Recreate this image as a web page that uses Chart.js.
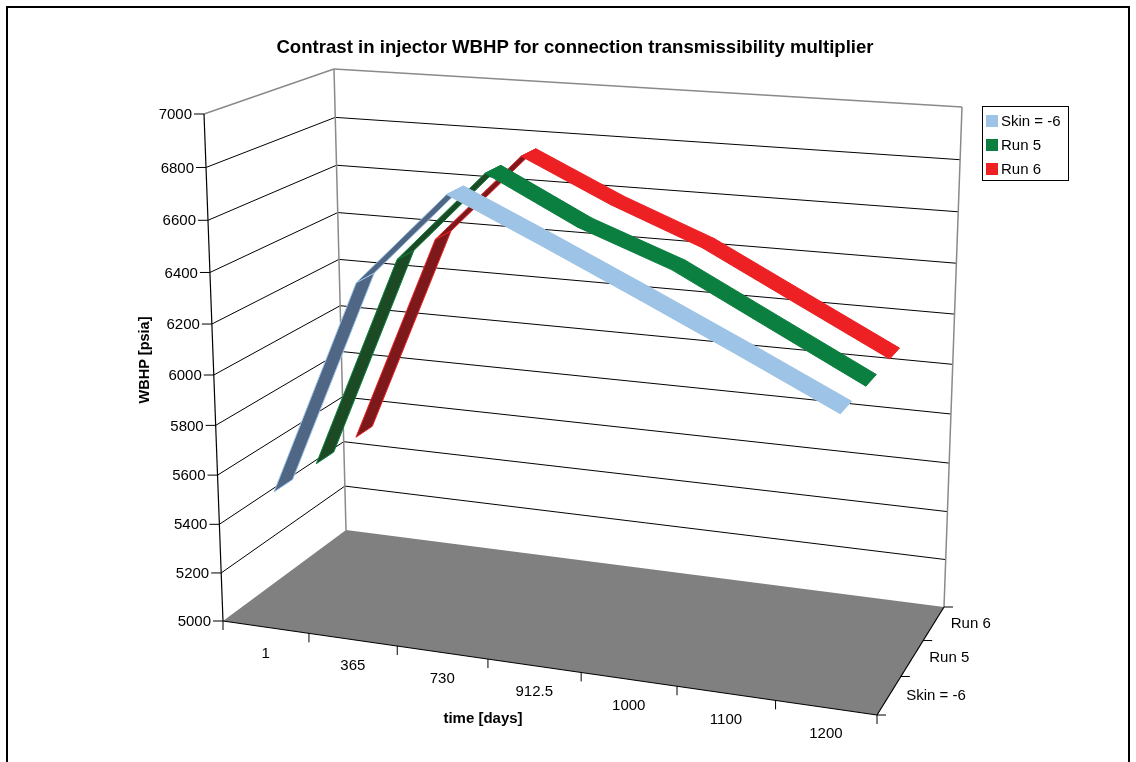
<!DOCTYPE html>
<html>
<head>
<meta charset="utf-8">
<script src="https://cdn.jsdelivr.net/npm/chart.js@4.4.1/dist/chart.umd.min.js"></script>
<style>
  body { margin: 0; background: #fff; }
  canvas { display: block; }
</style>
</head>
<body>
<canvas id="chart" width="1136" height="762"></canvas>
<script>
const categories = ['1', '365', '730', '912.5', '1000', '1100', '1200'];
const seriesNames = ['Skin = -6', 'Run 5', 'Run 6'];
const skinValues = [5520, 6385, 6747, 6586, 6420, 6250, 6075];
const run5Values = [5520, 6390, 6754, 6576, 6444, 6258, 6072];
const run6Values = [5520, 6388, 6750, 6585, 6445, 6260, 6075];
const valueTicks = [5000, 5200, 5400, 5600, 5800, 6000, 6200, 6400, 6600, 6800, 7000];
const yMin = 5000, yMax = 7000;

const lightColors = ['#9DC3E6', '#0A7F3F', '#ED2024'];
const darkColors = ['#4F6685', '#1B4A24', '#7D181B'];

// screen corners of the 3d box, key = u d v (category, depth, value)
const corners = {
  '000': [223, 621], '100': [877, 715], '010': [346, 530], '110': [944, 607],
  '001': [204, 114], '101': [893, 164], '011': [334, 69], '111': [962, 107]
};
const persp = { u: -0.092, d: 0.099, v: -0.0575 };
const ribbonHalf = 0.072;

function project(u, d, v) {
  let sx = 0, sy = 0, sw = 0;
  for (const iu of [0, 1]) for (const id of [0, 1]) for (const iv of [0, 1]) {
    const b = (iu ? u : 1 - u) * (id ? d : 1 - d) * (iv ? v : 1 - v);
    const w = b * (1 + persp.u * iu + persp.d * id + persp.v * iv);
    const p = corners['' + iu + id + iv];
    sx += w * p[0]; sy += w * p[1]; sw += w;
  }
  return { x: sx / sw, y: sy / sw };
}

const vFrac = val => (val - yMin) / (yMax - yMin);
const uMid = i => (i + 0.5) / categories.length;

function buildRibbons() {
  const all = [skinValues, run5Values, run6Values];
  const sets = [];
  // back series first so the front ones paint over them
  for (let s = all.length - 1; s >= 0; s--) {
    const vals = all[s];
    const dc = (s + 0.5) / all.length;
    for (let j = 0; j < vals.length - 1; j++) {
      const quad = [
        project(uMid(j), dc - ribbonHalf, vFrac(vals[j])),
        project(uMid(j + 1), dc - ribbonHalf, vFrac(vals[j + 1])),
        project(uMid(j + 1), dc + ribbonHalf, vFrac(vals[j + 1])),
        project(uMid(j), dc + ribbonHalf, vFrac(vals[j]))
      ];
      let area = 0;
      for (let k = 0; k < 4; k++) {
        const a = quad[k], b = quad[(k + 1) % 4];
        area += a.x * b.y - b.x * a.y;
      }
      const under = area > 0;
      sets.push({
        label: seriesNames[s],
        data: quad.concat([quad[0]]),
        showLine: true,
        fill: 'shape',
        backgroundColor: under ? darkColors[s] : lightColors[s],
        borderColor: lightColors[s],
        borderWidth: 1,
        pointRadius: 0,
        tension: 0
      });
    }
  }
  sets.forEach((ds, i) => { ds.order = sets.length - i; });
  return sets;
}

function px(chart, p) {
  return [chart.scales.x.getPixelForValue(p.x), chart.scales.y.getPixelForValue(p.y)];
}

function line(ctx, a, b, color, width) {
  ctx.beginPath();
  ctx.moveTo(a[0], a[1]);
  ctx.lineTo(b[0], b[1]);
  ctx.strokeStyle = color;
  ctx.lineWidth = width;
  ctx.stroke();
}

const boxPlugin = {
  id: 'box3d',
  beforeDraw(chart) {
    const ctx = chart.ctx;
    ctx.save();
    ctx.fillStyle = '#fff';
    ctx.fillRect(0, 0, chart.width, chart.height);
    ctx.restore();
  },
  beforeDatasetsDraw(chart) {
    const ctx = chart.ctx;
    const P = (u, d, v) => px(chart, project(u, d, v));
    ctx.save();
    ctx.lineCap = 'butt';

    // floor
    const f = [P(0, 0, 0), P(1, 0, 0), P(1, 1, 0), P(0, 1, 0)];
    ctx.beginPath();
    f.forEach((p, i) => i ? ctx.lineTo(p[0], p[1]) : ctx.moveTo(p[0], p[1]));
    ctx.closePath();
    ctx.fillStyle = '#808080';
    ctx.fill();

    // wall gridlines
    valueTicks.forEach(t => {
      if (t === yMin) return;
      const v = vFrac(t);
      const col = t === yMax ? '#8a8a8a' : '#000';
      const w = t === yMax ? 1.5 : 1;
      line(ctx, P(0, 0, v), P(0, 1, v), col, w);
      line(ctx, P(0, 1, v), P(1, 1, v), col, w);
    });
    line(ctx, P(0, 1, 0), P(0, 1, 1), '#8a8a8a', 1.5);
    line(ctx, P(1, 1, 0), P(1, 1, 1), '#8a8a8a', 1.5);

    // value axis
    line(ctx, P(0, 0, 0), P(0, 0, 1), '#000', 1.2);
    valueTicks.forEach(t => {
      const p = P(0, 0, vFrac(t));
      line(ctx, [p[0] - 10, p[1]], p, '#000', 1);
    });

    // category axis and depth axis
    line(ctx, P(0, 0, 0), P(1, 0, 0), '#000', 1.2);
    line(ctx, P(1, 0, 0), P(1, 1, 0), '#000', 1.2);
    for (let k = 0; k <= categories.length; k++) {
      const p = P(k / categories.length, 0, 0);
      line(ctx, p, [p[0], p[1] + 9], '#000', 1);
    }
    for (let k = 0; k <= seriesNames.length; k++) {
      const p = P(1, k / seriesNames.length, 0);
      line(ctx, p, [p[0] + 9, p[1]], '#000', 1);
    }
    ctx.restore();
  },
  afterDraw(chart) {
    const ctx = chart.ctx;
    const P = (u, d, v) => px(chart, project(u, d, v));
    ctx.save();
    ctx.fillStyle = '#000';
    ctx.textBaseline = 'middle';

    ctx.font = '15px "Liberation Sans", Arial, sans-serif';
    ctx.textAlign = 'right';
    valueTicks.forEach(t => {
      const p = P(0, 0, vFrac(t));
      ctx.fillText(String(t), p[0] - 12, p[1] + 1);
    });

    ctx.textAlign = 'center';
    categories.forEach((c, i) => {
      const p = P(uMid(i), 0, 0);
      ctx.fillText(c, p[0], p[1] + 26.5);
    });

    ctx.textAlign = 'left';
    seriesNames.forEach((s, i) => {
      const p = P(1, (i + 0.5) / seriesNames.length, 0);
      ctx.fillText(s, p[0] + 17, p[1]);
    });

    // titles
    ctx.textAlign = 'center';
    ctx.font = 'bold 18.6px "Liberation Sans", Arial, sans-serif';
    ctx.fillText('Contrast in injector WBHP for connection transmissibility multiplier', 575, 48);
    ctx.font = 'bold 15px "Liberation Sans", Arial, sans-serif';
    ctx.fillText('time [days]', 483, 719);
    ctx.save();
    ctx.translate(145, 360);
    ctx.rotate(-Math.PI / 2);
    ctx.font = 'bold 14.5px "Liberation Sans", Arial, sans-serif';
    ctx.fillText('WBHP [psia]', 0, 0);
    ctx.restore();

    // legend
    ctx.strokeStyle = '#000';
    ctx.lineWidth = 1;
    ctx.strokeRect(982.5, 106.5, 86, 74);
    ctx.font = '15px "Liberation Sans", Arial, sans-serif';
    ctx.textAlign = 'left';
    [121, 145, 169].forEach((y, i) => {
      ctx.fillStyle = lightColors[i];
      ctx.fillRect(986, y - 6, 12, 12);
      ctx.fillStyle = '#000';
      ctx.fillText(seriesNames[i], 1001, y + 1);
    });

    // outer frame
    ctx.lineWidth = 2;
    ctx.strokeRect(7, 7, 1122, 760);
    ctx.restore();
  }
};

const chart = new Chart(document.getElementById('chart'), {
  type: 'scatter',
  data: { datasets: buildRibbons() },
  options: {
    responsive: false,
    animation: false,
    events: [],
    layout: { padding: 0 },
    plugins: {
      legend: { display: false },
      title: { display: false },
      tooltip: { enabled: false }
    },
    scales: {
      x: { type: 'linear', min: 0, max: 1136, display: false },
      y: { type: 'linear', min: 0, max: 762, reverse: true, display: false }
    }
  },
  plugins: [boxPlugin]
});
</script>
</body>
</html>
